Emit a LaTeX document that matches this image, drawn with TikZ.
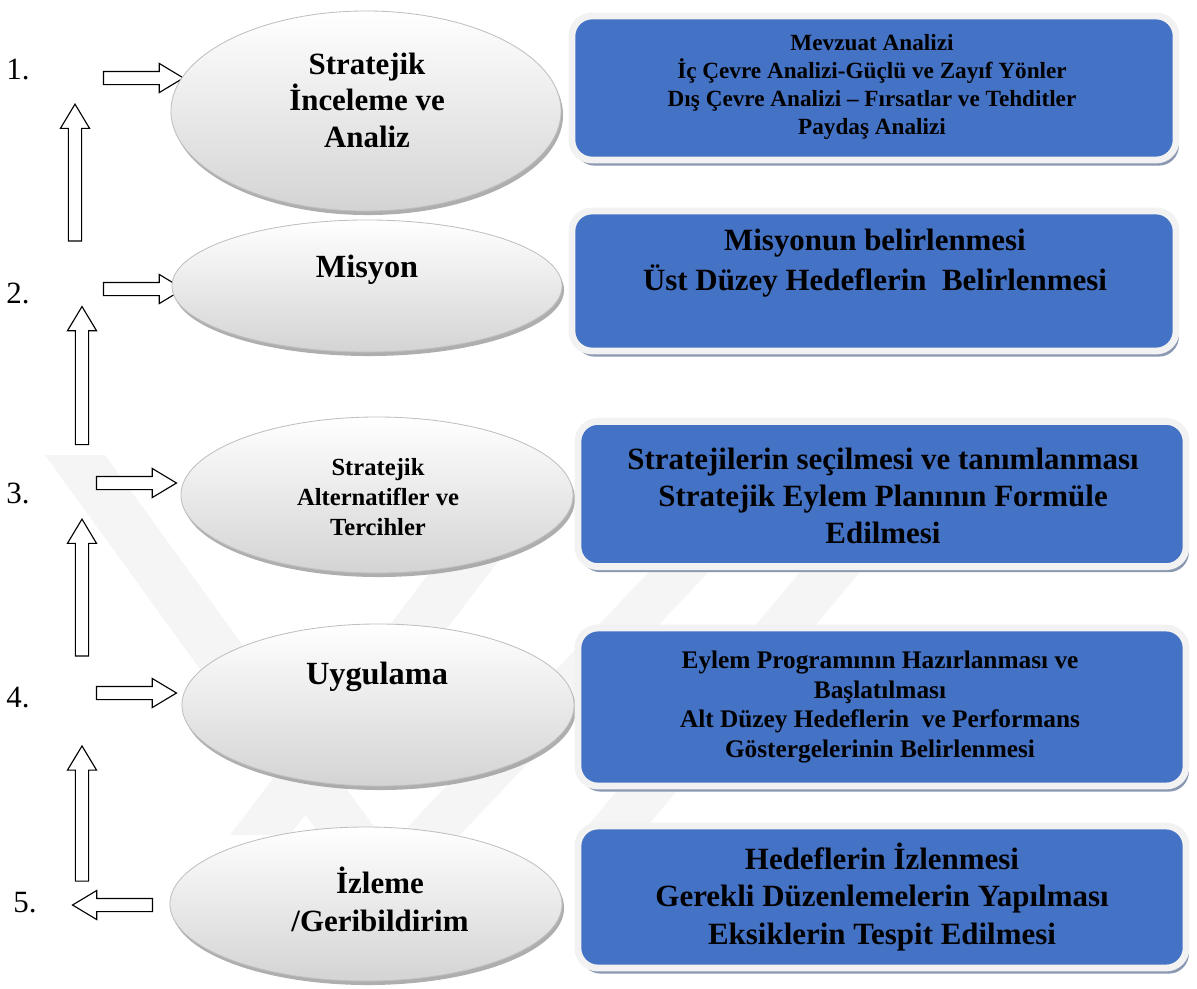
\documentclass[tikz,border=0pt]{standalone}
\usepackage{fontspec}
\setmainfont{Liberation Serif}
\usetikzlibrary{shapes.geometric,shapes.arrows,shadows}
\definecolor{boxblue}{RGB}{68,114,196}
\definecolor{boxshade}{RGB}{138,152,178}
\definecolor{rim}{RGB}{242,242,242}

\begin{document}
\begin{tikzpicture}[x=0.025cm, y=-0.025cm, every node/.style={align=center},
  txt/.style 2 args={font=\bfseries\fontsize{#1}{#2}\selectfont},
  num/.style={font=\fontsize{22}{26}\selectfont},
  el/.style={ellipse, draw=black!25, line width=0.6pt, top color=white, bottom color=black!17, drop shadow={shadow xshift=0.05cm, shadow yshift=-0.1cm, fill=black!45, opacity=0.7}},
  bx/.style={rounded corners=0.5cm, draw=rim, line width=0.17cm, fill=boxblue, drop shadow={shadow xshift=0.07cm, shadow yshift=-0.14cm, fill=boxshade, opacity=1}},
  ar/.style={single arrow, draw, line width=0.8pt, fill=white, inner sep=0.15cm, single arrow head extend=0.2cm, single arrow tip angle=62, minimum height=2cm}]
	\useasboundingbox (0,0) rectangle (1197,988);
	% faint watermark behind the lower part
	\fill[black!4] (45,455) -- (105,455) -- (380,835) -- (320,835) -- cycle;
	\fill[black!4] (230,835) -- (290,835) -- (560,480) -- (500,480) -- cycle;
	\fill[black!4] (400,835) -- (460,835) -- (720,560) -- (660,560) -- cycle;
	\fill[black!4] (580,835) -- (640,835) -- (870,560) -- (810,560) -- cycle;
	% steps
	\node[num] (n1) at (18,70) {1.}; \node[num] (n2) at (18,293) {2.}; \node[num] (n3) at (18,493) {3.}; \node[num] (n4) at (18,698) {4.}; \node[num] (n5) at (25,903) {5.};
	\node[ar] (h1) at (138,78) {}; \node[ar] (h2) at (138,289) {}; \node[ar] (h3) at (131,483) {}; \node[ar] (h4) at (131,693) {};
	\node[ar, shape border rotate=180] (h5) at (118,905) {};
	\node[ar, shape border rotate=90, minimum height=3.42cm] (v1) at (75,178) {};
	\node[ar, shape border rotate=90, minimum height=3.45cm] (v2) at (82,381) {};
	\node[ar, shape border rotate=90, minimum height=3.42cm] (v3) at (82,593) {};
	\node[ar, shape border rotate=90, minimum height=3.38cm] (v4) at (82,819) {};
	% ellipses
	\node[el, minimum width=9.75cm, minimum height=5cm] (e1) at (366,111) {};
	\node[el, minimum width=9.75cm, minimum height=3.3cm] (e2) at (367,286) {};
	\node[el, minimum width=9.8cm, minimum height=3.9cm] (e3) at (377,495) {};
	\node[el, minimum width=9.8cm, minimum height=4.05cm] (e4) at (378,705) {};
	\node[el, minimum width=9.8cm, minimum height=3.85cm] (e5) at (366,904) {};
	\node[txt={22}{26}] (t1) at (367,100) {Stratejik\\İnceleme ve\\Analiz};
	\node[txt={23}{27}] (t2) at (367,270) {Misyon};
	\node[txt={17.5}{21.3}] (t3) at (378,497) {Stratejik\\Alternatifler ve\\Tercihler};
	\node[txt={23}{27}] (t4) at (377,677) {Uygulama};
	\node[txt={22}{27}] (t5) at (380,899) {İzleme\\/Geribildirim};
	% boxes
	\node[bx, minimum width=15.1cm, minimum height=3.6cm] (b1) at (874,88) {};
	\node[bx, minimum width=15.1cm, minimum height=3.5cm] (b2) at (874,281) {};
	\node[bx, minimum width=15.2cm, minimum height=3.63cm] (b3) at (882,494) {};
	\node[bx, minimum width=15.2cm, minimum height=3.95cm] (b4) at (882,707) {};
	\node[bx, minimum width=15.2cm, minimum height=3.55cm] (b5) at (882,897) {};
	\node[txt={16.5}{20}] (d1) at (872,87) {Mevzuat Analizi\\İç Çevre Analizi-Güçlü ve Zayıf Yönler\\Dış Çevre Analizi – Fırsatlar ve Tehditler\\Paydaş Analizi};
	\node[txt={22}{28.5}] (d2) at (875,263) {Misyonun belirlenmesi\\Üst Düzey Hedeflerin\ \ Belirlenmesi};
	\node[txt={22}{26.3}] (d3) at (883,496) {Stratejilerin seçilmesi ve tanımlanması\\Stratejik Eylem Planının Formüle\\Edilmesi};
	\node[txt={18}{21.3}] (d4) at (880,707) {Eylem Programının Hazırlanması ve\\Başlatılması\\Alt Düzey Hedeflerin\ \ ve Performans\\Göstergelerinin Belirlenmesi};
	\node[txt={22}{26.7}] (d5) at (882,897) {Hedeflerin İzlenmesi\\Gerekli Düzenlemelerin Yapılması\\Eksiklerin Tespit Edilmesi};
\end{tikzpicture}
\end{document}
